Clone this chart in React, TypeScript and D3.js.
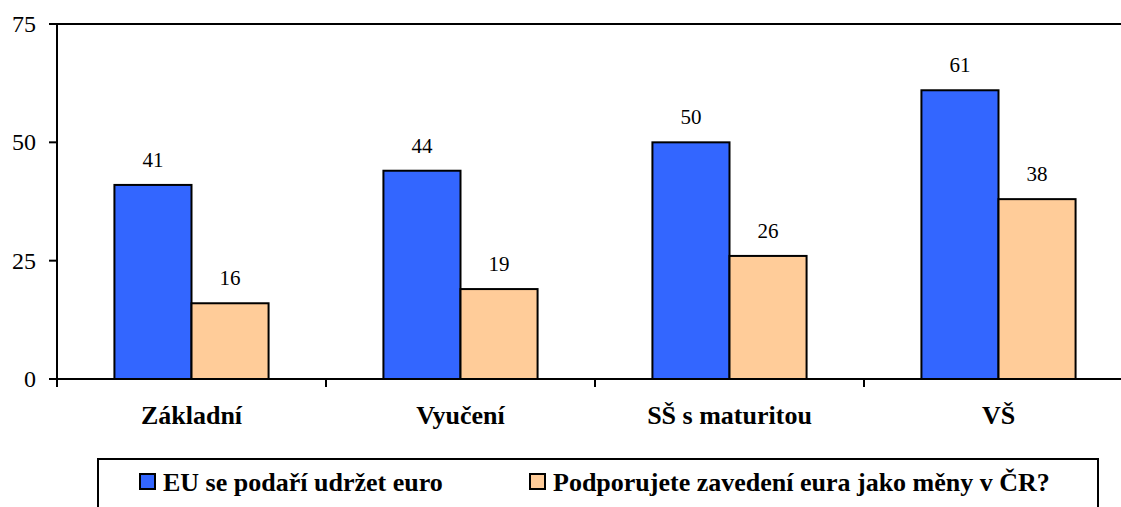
import React, { useEffect } from 'react'
import * as d3 from 'd3'

const categories = ['Základní', 'Vyučení', 'SŠ s maturitou', 'VŠ']
const seriesNames = ['EU se podaří udržet euro', 'Podporujete zavedení eura jako měny v ČR?']
const euroKept = [41, 44, 50, 61]
const supportEuro = [16, 19, 26, 38]
const yTicks = [0, 25, 50, 75]
const colors = ['#3366FF', '#FFCC99']

const W = 1121
const H = 507
const FONT = "'Times New Roman'"

const left = 57, top = 24, bottom = 379
const band = 269

export default function App() {
  useEffect(() => {
    document.body.style.margin = '0'
  }, [])

  const x = d3.scaleBand<string>()
    .domain(categories)
    .range([left, left + band * categories.length])
    .paddingInner(0).paddingOuter(0)
  const xs = d3.scaleBand<string>()
    .domain(seriesNames)
    .range([0, x.bandwidth()])
    .paddingInner(0).paddingOuter(0.745)
  const y = d3.scaleLinear().domain([0, 75]).range([bottom, top])

  const values = [euroKept, supportEuro]
  const legendX = [140, 530]
  const txt = { fontFamily: FONT }

  return (
    <svg width={W} height={H}>
      <style>{"text { font-family: 'Times New Roman', 'Liberation Serif', serif; }"}</style>
      {/* top border of plot */}
      <line x1={left - 8} x2={W + 10} y1={y(75)} y2={y(75)} stroke="#000" strokeWidth={2} />

      {seriesNames.map((s, si) => (
        <g key={s}>
          {categories.map((c, i) => {
            const bx = (x(c) as number) + (xs(s) as number)
            const v = values[si][i]
            return (
              <g key={c}>
                <rect x={bx} y={y(v)} width={xs.bandwidth()} height={y(0) - y(v)}
                  fill={colors[si]} stroke="#000" strokeWidth={2} />
                <text x={bx + xs.bandwidth() / 2} y={y(v) - 18} textAnchor="middle"
                  fontSize={21} style={txt}>{v}</text>
              </g>
            )
          })}
        </g>
      ))}

      {/* y axis */}
      <line x1={left} x2={left} y1={top} y2={bottom} stroke="#000" strokeWidth={2} />
      {yTicks.map((t) => (
        <g key={t}>
          <line x1={left - 8} x2={left} y1={y(t)} y2={y(t)} stroke="#000" strokeWidth={2} />
          <text x={36} y={y(t) + 8} textAnchor="end" fontSize={24} style={txt}>{t}</text>
        </g>
      ))}

      {/* x axis */}
      <line x1={left} x2={W + 10} y1={bottom} y2={bottom} stroke="#000" strokeWidth={2} />
      {categories.map((c) => (
        <g key={c}>
          <line x1={x(c) as number} x2={x(c) as number} y1={bottom} y2={bottom + 8}
            stroke="#000" strokeWidth={2} />
          <text x={(x(c) as number) + x.bandwidth() / 2} y={424} textAnchor="middle"
            fontSize={26} fontWeight="bold" style={txt}>{c}</text>
        </g>
      ))}

      {/* legend */}
      <rect x={98} y={459} width={1000} height={80} fill="none" stroke="#000" strokeWidth={2} />
      {seriesNames.map((s, si) => (
        <g key={s}>
          <rect x={legendX[si]} y={474} width={15} height={15}
            fill={colors[si]} stroke="#000" strokeWidth={2} />
          <text x={legendX[si] + 23} y={491} fontSize={26} fontWeight="bold" style={txt}>{s}</text>
        </g>
      ))}
    </svg>
  )
}
